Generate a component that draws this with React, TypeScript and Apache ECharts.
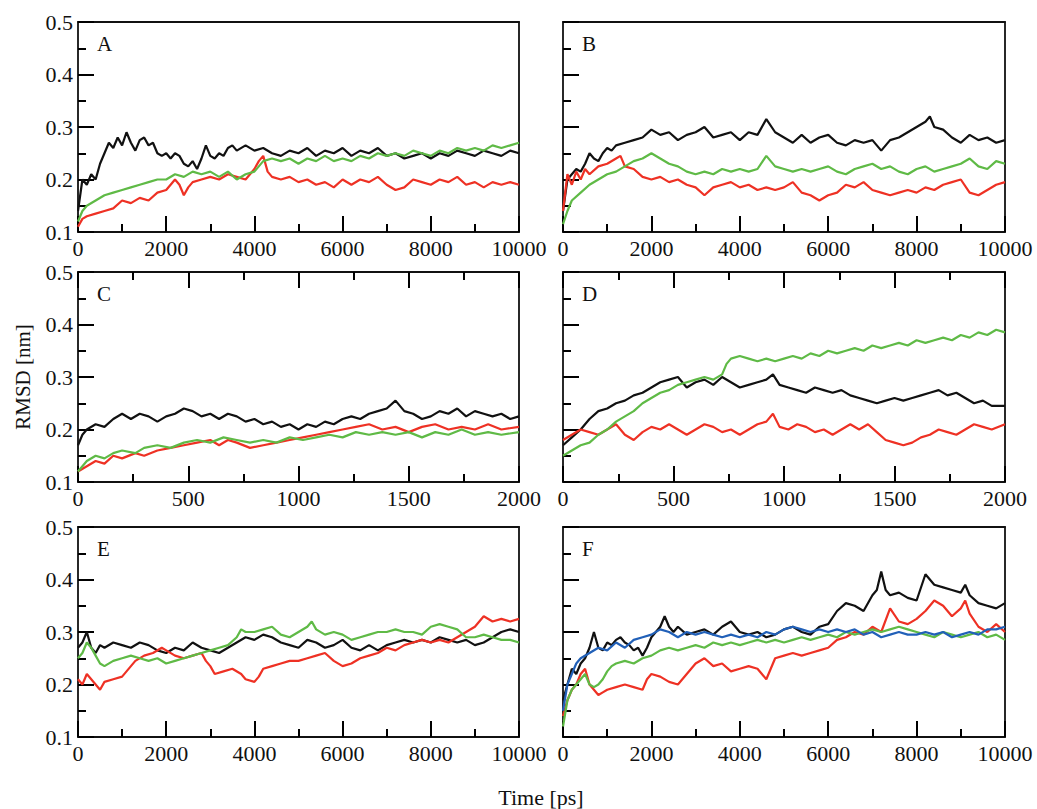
import React, { useEffect, useRef } from "react";
import * as echarts from "echarts";

// ---- data: [time (ps), RMSD (nm)] ----
const aBlack = [[0,0.14],[50,0.17],[100,0.2],[200,0.19],[300,0.21],[400,0.2],[500,0.23],[600,0.25],[700,0.27],[800,0.26],[900,0.28],[1000,0.265],[1100,0.29],[1200,0.27],[1300,0.255],[1400,0.275],[1500,0.28],[1600,0.265],[1700,0.27],[1800,0.25],[1900,0.245],[2000,0.25],[2100,0.24],[2200,0.25],[2300,0.245],[2400,0.23],[2500,0.225],[2600,0.235],[2700,0.22],[2800,0.24],[2900,0.265],[3000,0.245],[3100,0.24],[3200,0.25],[3300,0.245],[3400,0.26],[3500,0.265],[3600,0.255],[3800,0.265],[4000,0.255],[4200,0.26],[4400,0.25],[4600,0.245],[4800,0.255],[5000,0.25],[5200,0.26],[5400,0.245],[5600,0.255],[5800,0.25],[6000,0.26],[6200,0.245],[6400,0.255],[6600,0.25],[6800,0.26],[7000,0.245],[7200,0.25],[7400,0.24],[7600,0.245],[7800,0.25],[8000,0.24],[8200,0.25],[8400,0.245],[8600,0.255],[8800,0.25],[9000,0.245],[9200,0.255],[9400,0.25],[9600,0.245],[9800,0.255],[10000,0.25]];
const aRed = [[0,0.11],[100,0.125],[200,0.13],[400,0.135],[600,0.14],[800,0.145],[1000,0.16],[1200,0.155],[1400,0.165],[1600,0.16],[1800,0.175],[2000,0.18],[2200,0.2],[2300,0.19],[2400,0.17],[2500,0.185],[2600,0.195],[2800,0.2],[3000,0.205],[3200,0.2],[3400,0.21],[3600,0.205],[3800,0.2],[4000,0.22],[4100,0.235],[4200,0.245],[4300,0.215],[4400,0.205],[4600,0.2],[4800,0.205],[5000,0.195],[5200,0.2],[5400,0.19],[5600,0.195],[5800,0.185],[6000,0.2],[6200,0.19],[6400,0.2],[6600,0.195],[6800,0.205],[7000,0.19],[7200,0.18],[7400,0.185],[7600,0.2],[7800,0.195],[8000,0.19],[8200,0.2],[8400,0.195],[8600,0.205],[8800,0.19],[9000,0.195],[9200,0.185],[9400,0.195],[9600,0.19],[9800,0.195],[10000,0.19]];
const aGreen = [[0,0.12],[100,0.14],[200,0.15],[400,0.16],[600,0.17],[800,0.175],[1000,0.18],[1200,0.185],[1400,0.19],[1600,0.195],[1800,0.2],[2000,0.2],[2200,0.21],[2400,0.205],[2600,0.215],[2800,0.21],[3000,0.215],[3200,0.205],[3400,0.215],[3600,0.2],[3800,0.21],[4000,0.215],[4200,0.235],[4400,0.24],[4600,0.235],[4800,0.24],[5000,0.23],[5200,0.24],[5400,0.235],[5600,0.245],[5800,0.235],[6000,0.24],[6200,0.235],[6400,0.245],[6600,0.24],[6800,0.25],[7000,0.245],[7200,0.25],[7400,0.245],[7600,0.255],[7800,0.25],[8000,0.245],[8200,0.255],[8400,0.25],[8600,0.26],[8800,0.255],[9000,0.26],[9200,0.255],[9400,0.265],[9600,0.26],[9800,0.265],[10000,0.27]];

const bBlack = [[0,0.14],[100,0.2],[200,0.21],[300,0.22],[400,0.215],[500,0.23],[600,0.25],[700,0.24],[800,0.235],[900,0.25],[1000,0.26],[1100,0.255],[1200,0.265],[1400,0.27],[1600,0.275],[1800,0.28],[2000,0.295],[2200,0.285],[2400,0.29],[2600,0.275],[2800,0.285],[3000,0.29],[3200,0.3],[3400,0.28],[3600,0.285],[3800,0.29],[4000,0.275],[4200,0.29],[4400,0.285],[4600,0.315],[4800,0.29],[5000,0.28],[5200,0.27],[5400,0.285],[5600,0.27],[5800,0.28],[6000,0.285],[6200,0.27],[6400,0.265],[6600,0.275],[6800,0.27],[7000,0.275],[7200,0.255],[7400,0.275],[7600,0.28],[7800,0.29],[8000,0.3],[8200,0.31],[8300,0.32],[8400,0.3],[8600,0.295],[8800,0.28],[9000,0.27],[9200,0.285],[9400,0.275],[9600,0.28],[9800,0.27],[10000,0.275]];
const bRed = [[0,0.14],[100,0.21],[200,0.19],[300,0.215],[400,0.2],[500,0.22],[600,0.21],[800,0.225],[1000,0.23],[1200,0.24],[1300,0.245],[1400,0.225],[1600,0.22],[1800,0.205],[2000,0.2],[2200,0.205],[2400,0.195],[2600,0.2],[2800,0.19],[3000,0.185],[3200,0.17],[3400,0.185],[3600,0.19],[3800,0.195],[4000,0.185],[4200,0.19],[4400,0.18],[4600,0.185],[4800,0.18],[5000,0.185],[5200,0.195],[5400,0.175],[5600,0.17],[5800,0.16],[6000,0.17],[6200,0.175],[6400,0.19],[6600,0.185],[6800,0.195],[7000,0.18],[7200,0.175],[7400,0.17],[7600,0.175],[7800,0.18],[8000,0.175],[8200,0.185],[8400,0.18],[8600,0.19],[8800,0.195],[9000,0.2],[9200,0.175],[9400,0.17],[9600,0.18],[9800,0.19],[10000,0.195]];
const bGreen = [[0,0.115],[100,0.14],[200,0.16],[400,0.175],[600,0.19],[800,0.2],[1000,0.21],[1200,0.215],[1400,0.225],[1600,0.235],[1800,0.24],[2000,0.25],[2200,0.24],[2400,0.23],[2600,0.225],[2800,0.215],[3000,0.21],[3200,0.215],[3400,0.21],[3600,0.22],[3800,0.215],[4000,0.22],[4200,0.215],[4400,0.22],[4600,0.245],[4800,0.225],[5000,0.22],[5200,0.215],[5400,0.22],[5600,0.215],[5800,0.22],[6000,0.225],[6200,0.215],[6400,0.21],[6600,0.22],[6800,0.225],[7000,0.23],[7200,0.22],[7400,0.225],[7600,0.215],[7800,0.21],[8000,0.22],[8200,0.225],[8400,0.215],[8600,0.22],[8800,0.225],[9000,0.23],[9200,0.24],[9400,0.225],[9600,0.22],[9800,0.235],[10000,0.23]];

const cBlack = [[0,0.17],[20,0.19],[40,0.2],[80,0.21],[120,0.205],[160,0.22],[200,0.23],[240,0.22],[280,0.23],[320,0.225],[360,0.215],[400,0.225],[440,0.23],[480,0.24],[520,0.235],[560,0.225],[600,0.23],[640,0.22],[680,0.23],[720,0.225],[760,0.215],[800,0.22],[840,0.21],[880,0.215],[920,0.205],[960,0.21],[1000,0.2],[1040,0.21],[1080,0.205],[1120,0.215],[1160,0.21],[1200,0.22],[1240,0.225],[1280,0.22],[1320,0.23],[1360,0.235],[1400,0.24],[1440,0.255],[1480,0.235],[1520,0.23],[1560,0.22],[1600,0.225],[1640,0.235],[1680,0.23],[1720,0.24],[1760,0.225],[1800,0.235],[1840,0.23],[1880,0.225],[1920,0.23],[1960,0.22],[2000,0.225]];
const cRed = [[0,0.12],[40,0.13],[80,0.14],[120,0.135],[160,0.15],[200,0.145],[260,0.155],[300,0.15],[360,0.16],[420,0.165],[480,0.17],[540,0.175],[600,0.18],[640,0.17],[680,0.18],[720,0.175],[780,0.165],[840,0.17],[900,0.175],[960,0.18],[1020,0.185],[1080,0.19],[1140,0.195],[1200,0.2],[1260,0.205],[1320,0.21],[1380,0.2],[1440,0.205],[1500,0.195],[1560,0.205],[1620,0.21],[1680,0.2],[1740,0.205],[1800,0.2],[1860,0.21],[1920,0.2],[2000,0.205]];
const cGreen = [[0,0.12],[40,0.14],[80,0.15],[120,0.145],[160,0.155],[200,0.16],[260,0.155],[300,0.165],[360,0.17],[420,0.165],[480,0.175],[540,0.18],[600,0.175],[660,0.185],[720,0.18],[780,0.175],[840,0.18],[900,0.175],[960,0.185],[1020,0.18],[1080,0.185],[1140,0.19],[1200,0.185],[1260,0.195],[1320,0.19],[1380,0.195],[1440,0.19],[1500,0.195],[1560,0.185],[1620,0.195],[1680,0.19],[1740,0.2],[1800,0.19],[1860,0.195],[1920,0.19],[2000,0.195]];

const dBlack = [[0,0.17],[40,0.185],[80,0.2],[120,0.22],[160,0.235],[200,0.24],[240,0.25],[280,0.255],[320,0.265],[360,0.27],[400,0.28],[440,0.29],[480,0.295],[520,0.3],[560,0.28],[600,0.29],[640,0.295],[680,0.285],[720,0.3],[760,0.29],[800,0.28],[840,0.285],[880,0.29],[920,0.295],[950,0.305],[980,0.285],[1020,0.28],[1060,0.275],[1100,0.27],[1140,0.28],[1180,0.275],[1220,0.27],[1260,0.275],[1300,0.265],[1340,0.26],[1380,0.255],[1420,0.25],[1460,0.255],[1500,0.26],[1540,0.255],[1580,0.26],[1620,0.265],[1660,0.27],[1700,0.275],[1740,0.265],[1780,0.27],[1820,0.26],[1860,0.25],[1900,0.255],[1940,0.245],[2000,0.245]];
const dRed = [[0,0.18],[40,0.19],[80,0.2],[120,0.195],[160,0.19],[200,0.2],[240,0.21],[280,0.19],[320,0.18],[360,0.195],[400,0.205],[440,0.2],[480,0.21],[520,0.2],[560,0.19],[600,0.2],[640,0.21],[680,0.205],[720,0.195],[760,0.2],[800,0.19],[840,0.2],[880,0.21],[920,0.215],[950,0.23],[980,0.205],[1020,0.2],[1060,0.21],[1100,0.205],[1140,0.195],[1180,0.2],[1220,0.19],[1260,0.2],[1300,0.21],[1340,0.2],[1380,0.21],[1420,0.195],[1460,0.18],[1500,0.175],[1540,0.17],[1580,0.175],[1620,0.185],[1660,0.19],[1700,0.2],[1740,0.195],[1780,0.19],[1820,0.2],[1860,0.21],[1900,0.205],[1940,0.2],[2000,0.21]];
const dGreen = [[0,0.15],[40,0.16],[80,0.17],[120,0.175],[160,0.19],[200,0.2],[240,0.215],[280,0.225],[320,0.235],[360,0.25],[400,0.26],[440,0.27],[480,0.275],[520,0.285],[560,0.29],[600,0.295],[640,0.3],[680,0.295],[720,0.305],[740,0.325],[760,0.335],[800,0.34],[840,0.335],[880,0.33],[920,0.335],[960,0.33],[1000,0.335],[1040,0.34],[1080,0.335],[1120,0.345],[1160,0.34],[1200,0.35],[1240,0.345],[1280,0.35],[1320,0.355],[1360,0.35],[1400,0.36],[1440,0.355],[1480,0.36],[1520,0.365],[1560,0.36],[1600,0.37],[1640,0.365],[1680,0.37],[1720,0.375],[1760,0.37],[1800,0.38],[1840,0.375],[1880,0.385],[1920,0.38],[1960,0.39],[2000,0.385]];

const eBlack = [[0,0.27],[100,0.28],[200,0.3],[300,0.27],[400,0.26],[500,0.275],[600,0.27],[800,0.28],[1000,0.275],[1200,0.27],[1400,0.28],[1600,0.275],[1800,0.265],[2000,0.26],[2200,0.27],[2400,0.265],[2600,0.28],[2800,0.27],[3000,0.265],[3200,0.26],[3400,0.27],[3600,0.28],[3800,0.29],[4000,0.285],[4200,0.295],[4400,0.29],[4600,0.28],[4800,0.275],[5000,0.27],[5200,0.285],[5400,0.28],[5600,0.27],[5800,0.275],[6000,0.285],[6200,0.27],[6400,0.265],[6600,0.275],[6800,0.265],[7000,0.275],[7200,0.28],[7400,0.285],[7600,0.28],[7800,0.285],[8000,0.28],[8200,0.29],[8400,0.285],[8600,0.28],[8800,0.285],[9000,0.275],[9200,0.28],[9400,0.29],[9600,0.3],[9800,0.305],[10000,0.3]];
const eRed = [[0,0.21],[100,0.2],[200,0.22],[300,0.21],[400,0.2],[500,0.19],[600,0.205],[800,0.21],[1000,0.215],[1100,0.225],[1300,0.245],[1500,0.255],[1700,0.26],[1900,0.27],[2000,0.265],[2200,0.255],[2400,0.25],[2600,0.255],[2800,0.26],[2900,0.245],[3000,0.235],[3100,0.22],[3300,0.225],[3500,0.23],[3700,0.22],[3800,0.21],[4000,0.205],[4100,0.215],[4200,0.23],[4400,0.235],[4600,0.24],[4800,0.245],[5000,0.245],[5200,0.25],[5400,0.255],[5600,0.26],[5800,0.245],[6000,0.235],[6200,0.24],[6400,0.25],[6600,0.255],[6800,0.26],[7000,0.27],[7200,0.265],[7400,0.275],[7600,0.28],[7800,0.285],[8000,0.28],[8200,0.285],[8400,0.28],[8600,0.29],[8800,0.3],[9000,0.31],[9200,0.33],[9400,0.32],[9600,0.325],[9800,0.32],[10000,0.325]];
const eGreen = [[0,0.25],[100,0.26],[200,0.28],[300,0.27],[400,0.255],[500,0.24],[600,0.235],[800,0.245],[1000,0.25],[1200,0.255],[1400,0.25],[1600,0.245],[1800,0.25],[2000,0.24],[2200,0.245],[2400,0.25],[2600,0.255],[2800,0.26],[3000,0.265],[3200,0.27],[3400,0.275],[3600,0.29],[3700,0.305],[3800,0.3],[4000,0.3],[4200,0.305],[4400,0.31],[4600,0.295],[4800,0.29],[5000,0.3],[5200,0.31],[5300,0.32],[5400,0.305],[5600,0.295],[5800,0.3],[6000,0.295],[6200,0.285],[6400,0.29],[6600,0.295],[6800,0.3],[7000,0.3],[7200,0.305],[7400,0.3],[7600,0.3],[7800,0.295],[8000,0.31],[8200,0.315],[8400,0.31],[8600,0.305],[8800,0.29],[9000,0.29],[9200,0.295],[9400,0.29],[9600,0.285],[9800,0.285],[10000,0.28]];

const fBlack = [[0,0.17],[100,0.2],[200,0.23],[300,0.22],[400,0.24],[500,0.25],[600,0.27],[700,0.3],[800,0.27],[900,0.265],[1000,0.28],[1100,0.275],[1200,0.285],[1300,0.29],[1400,0.28],[1500,0.275],[1600,0.265],[1700,0.27],[1800,0.255],[1900,0.27],[2000,0.29],[2100,0.3],[2200,0.31],[2300,0.33],[2400,0.31],[2500,0.3],[2600,0.31],[2800,0.295],[3000,0.3],[3200,0.305],[3400,0.295],[3600,0.31],[3800,0.32],[4000,0.3],[4200,0.295],[4400,0.3],[4600,0.29],[4800,0.295],[5000,0.305],[5200,0.31],[5400,0.3],[5600,0.295],[5800,0.31],[6000,0.315],[6200,0.34],[6400,0.355],[6600,0.35],[6800,0.34],[7000,0.37],[7100,0.38],[7200,0.415],[7300,0.38],[7400,0.37],[7600,0.375],[7800,0.365],[8000,0.36],[8200,0.41],[8400,0.39],[8600,0.385],[8800,0.38],[9000,0.375],[9100,0.39],[9200,0.37],[9400,0.355],[9600,0.35],[9800,0.345],[10000,0.355]];
const fRed = [[0,0.14],[100,0.17],[200,0.19],[300,0.2],[400,0.22],[500,0.23],[600,0.2],[700,0.19],[800,0.18],[900,0.185],[1000,0.19],[1200,0.195],[1400,0.2],[1600,0.195],[1800,0.19],[1900,0.21],[2000,0.22],[2200,0.215],[2400,0.205],[2600,0.2],[2800,0.22],[3000,0.24],[3200,0.25],[3400,0.235],[3600,0.24],[3800,0.225],[4000,0.23],[4200,0.235],[4400,0.23],[4600,0.21],[4800,0.25],[5000,0.255],[5200,0.26],[5400,0.255],[5600,0.26],[5800,0.265],[6000,0.27],[6200,0.285],[6400,0.29],[6600,0.3],[6800,0.295],[7000,0.31],[7200,0.3],[7400,0.345],[7600,0.32],[7800,0.315],[8000,0.325],[8200,0.34],[8400,0.36],[8600,0.35],[8800,0.33],[9000,0.345],[9100,0.36],[9200,0.335],[9400,0.31],[9600,0.3],[9800,0.315],[10000,0.3]];
const fGreen = [[0,0.12],[100,0.17],[200,0.19],[300,0.2],[400,0.21],[500,0.22],[600,0.2],[700,0.195],[800,0.2],[900,0.21],[1000,0.225],[1100,0.235],[1200,0.24],[1400,0.245],[1600,0.24],[1800,0.25],[2000,0.255],[2200,0.265],[2400,0.27],[2600,0.265],[2800,0.27],[3000,0.275],[3200,0.27],[3400,0.28],[3600,0.275],[3800,0.28],[4000,0.275],[4200,0.28],[4400,0.285],[4600,0.28],[4800,0.285],[5000,0.28],[5200,0.285],[5400,0.29],[5600,0.285],[5800,0.29],[6000,0.295],[6200,0.29],[6400,0.3],[6600,0.295],[6800,0.3],[7000,0.305],[7200,0.3],[7400,0.305],[7600,0.31],[7800,0.305],[8000,0.3],[8200,0.295],[8400,0.29],[8600,0.3],[8800,0.295],[9000,0.29],[9200,0.295],[9400,0.3],[9600,0.29],[9800,0.295],[10000,0.285]];
const fBlue = [[0,0.15],[100,0.2],[200,0.22],[300,0.24],[400,0.25],[600,0.26],[800,0.27],[1000,0.265],[1200,0.28],[1400,0.27],[1600,0.285],[1800,0.29],[2000,0.295],[2200,0.305],[2400,0.3],[2600,0.29],[2800,0.3],[3000,0.295],[3200,0.3],[3400,0.295],[3600,0.29],[3800,0.295],[4000,0.29],[4200,0.295],[4400,0.29],[4600,0.3],[4800,0.295],[5000,0.305],[5200,0.31],[5400,0.305],[5600,0.3],[5800,0.305],[6000,0.3],[6200,0.305],[6400,0.3],[6600,0.305],[6800,0.295],[7000,0.3],[7200,0.29],[7400,0.295],[7600,0.3],[7800,0.295],[8000,0.295],[8200,0.3],[8400,0.295],[8600,0.3],[8800,0.29],[9000,0.295],[9200,0.3],[9400,0.295],[9600,0.305],[9800,0.305],[10000,0.31]];

const panelLetters = ["A", "B", "C", "D", "E", "F"];
const panelTimeMax = [10000, 10000, 2000, 2000, 10000, 10000];
const panelTimeStep = [2000, 2000, 500, 500, 2000, 2000];
const panelSeries = [
  [aBlack, aRed, aGreen],
  [bBlack, bRed, bGreen],
  [cBlack, cRed, cGreen],
  [dBlack, dRed, dGreen],
  [eBlack, eRed, eGreen],
  [fBlack, fRed, fGreen, fBlue],
];
const seriesColors = ["#111111", "#ee3124", "#5fba46", "#2160b8"];
const rmsdMin = 0.1;
const rmsdMax = 0.5;
const rmsdStep = 0.1;

const FONT = "Liberation Serif";
const INK = "#111111";
const TICK = "#000000";

const colLeft = [78, 563];
const colWidth = [441, 442];
const rowTop = [22, 272, 527];
const rowHeight = 210;
const MAJOR = 16;
const MINOR = 8;

const frame = () => ({ color: INK, width: 1.8 });
const tick = () => ({ color: TICK, width: 2 });

export default function App() {
  const ref = useRef<HTMLDivElement>(null);

  useEffect(() => {
    if (!ref.current) return;
    const chart = echarts.init(ref.current, null, { renderer: "svg" });

    const grid: any[] = [];
    const xAxis: any[] = [];
    const yAxis: any[] = [];
    const series: any[] = [];
    const graphic: any[] = [];

    panelLetters.forEach((letter, i) => {
      const col = i % 2;
      const row = Math.floor(i / 2);
      const left = colLeft[col];
      const top = rowTop[row];
      const width = colWidth[col];
      grid.push({ left, top, width, height: rowHeight });

      const topTicks = row === 1;
      xAxis.push({
        gridIndex: i,
        type: "value",
        position: "bottom",
        min: 0,
        max: panelTimeMax[i],
        interval: panelTimeStep[i],
        axisLine: { show: true, onZero: false, lineStyle: frame() },
        axisTick: { show: true, inside: true, length: MAJOR, lineStyle: tick() },
        minorTick: { show: true, splitNumber: 2, length: MINOR, lineStyle: tick() },
        axisLabel: {
          show: true,
          fontFamily: FONT,
          fontSize: 22,
          color: INK,
          margin: 5,
          formatter: (v: number) => String(v),
        },
        splitLine: { show: false },
      });
      xAxis.push({
        gridIndex: i,
        type: "value",
        position: "top",
        min: 0,
        max: panelTimeMax[i],
        interval: panelTimeStep[i],
        axisLine: { show: true, onZero: false, lineStyle: frame() },
        axisTick: { show: topTicks, inside: true, length: MAJOR, lineStyle: tick() },
        minorTick: { show: topTicks, splitNumber: 2, length: MINOR, lineStyle: tick() },
        axisLabel: { show: false },
        splitLine: { show: false },
      });
      yAxis.push({
        gridIndex: i,
        type: "value",
        position: "left",
        min: rmsdMin,
        max: rmsdMax,
        interval: rmsdStep,
        axisLine: { show: true, onZero: false, lineStyle: frame() },
        axisTick: { show: true, inside: true, length: MAJOR, lineStyle: tick() },
        minorTick: { show: true, splitNumber: 2, length: MINOR, lineStyle: tick() },
        axisLabel: {
          show: col === 0,
          fontFamily: FONT,
          fontSize: 22,
          color: INK,
          margin: 5,
          formatter: (v: number) => v.toFixed(1),
        },
        splitLine: { show: false },
      });
      yAxis.push({
        gridIndex: i,
        type: "value",
        position: "right",
        min: rmsdMin,
        max: rmsdMax,
        interval: rmsdStep,
        axisLine: { show: true, onZero: false, lineStyle: frame() },
        axisTick: { show: false },
        axisLabel: { show: false },
        splitLine: { show: false },
      });

      panelSeries[i].forEach((data, k) => {
        series.push({
          type: "line",
          xAxisIndex: 2 * i,
          yAxisIndex: 2 * i,
          data,
          showSymbol: false,
          symbol: "none",
          lineStyle: { color: seriesColors[k], width: 2.2 },
          itemStyle: { color: seriesColors[k] },
          z: 2 + k,
        });
      });

      graphic.push({
        type: "text",
        left: left + 19,
        top: top + 11,
        style: { text: letter, fontFamily: FONT, fontSize: 21, fill: "#111" },
      });
    });

    graphic.push({
      type: "text",
      x: 23,
      y: 377,
      rotation: Math.PI / 2,
      style: {
        text: "RMSD [nm]",
        fontFamily: FONT,
        fontSize: 21,
        fill: "#111",
        textAlign: "center",
        textVerticalAlign: "middle",
      },
    });
    graphic.push({
      type: "text",
      x: 541,
      y: 797,
      style: {
        text: "Time [ps]",
        fontFamily: FONT,
        fontSize: 22,
        fill: "#111",
        textAlign: "center",
        textVerticalAlign: "middle",
      },
    });

    chart.setOption({
      animation: false,
      backgroundColor: "#ffffff",
      grid,
      xAxis,
      yAxis,
      series,
      graphic,
    });

    return () => chart.dispose();
  }, []);

  return (
    <div
      ref={ref}
      style={{ position: "absolute", left: 0, top: 0, width: 1037, height: 809 }}
    />
  );
}
